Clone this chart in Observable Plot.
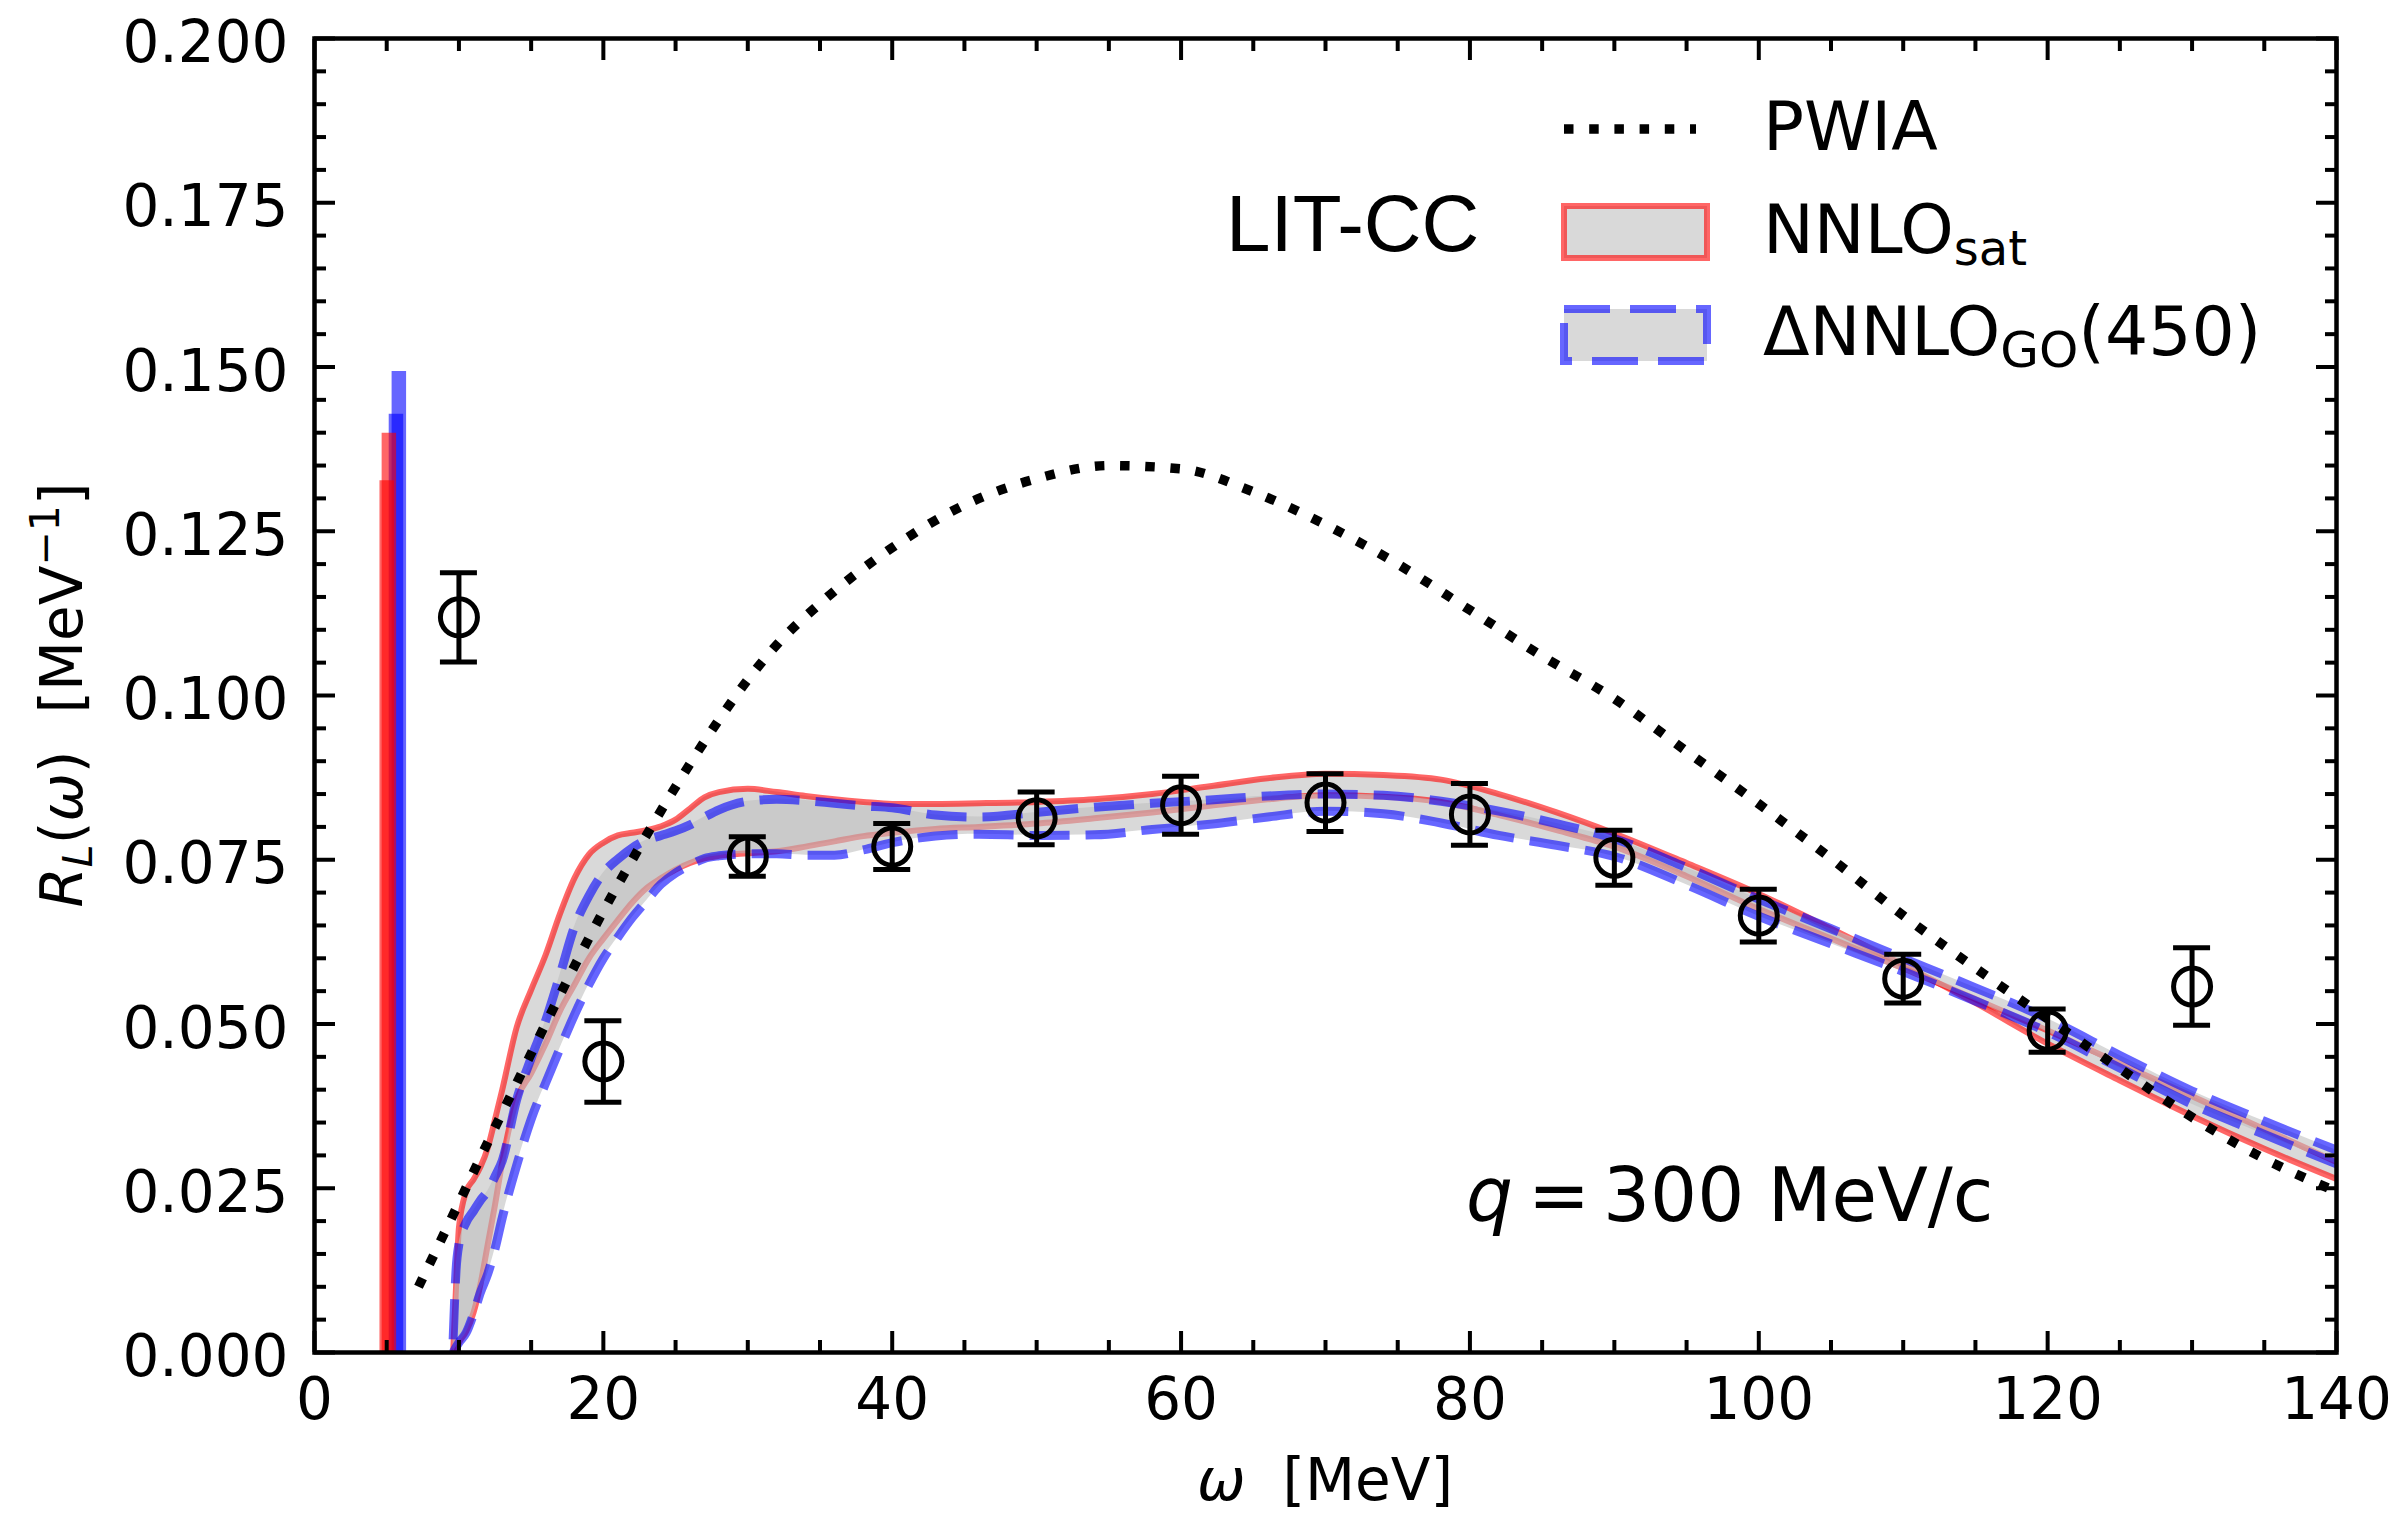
<!DOCTYPE html>
<html>
<head>
<meta charset="utf-8">
<script src="https://cdn.jsdelivr.net/npm/d3@7"></script>
<script src="https://cdn.jsdelivr.net/npm/@observablehq/plot@0.6"></script>
<style>
  html, body { margin: 0; padding: 0; background: #ffffff; }
  svg { display: block; }
</style>
</head>
<body>
<script>
// ---------------- data ----------------
const bandOmega = [9.6, 9.8, 10, 10.5, 11, 11.5, 12, 12.5, 13, 14, 15, 16, 17, 18, 19, 20, 21, 22, 23, 24, 25, 26, 27, 28, 30, 32, 34, 36, 38, 40, 43, 46, 50, 54, 58, 62, 66, 70, 74, 78, 82, 86, 90, 95, 100, 105, 110, 115, 120, 125, 130, 135, 140];
// NNLO_sat band edges
const satEdgeA = [0.0000, 0.0100, 0.0190, 0.0245, 0.0263, 0.0283, 0.0312, 0.0355, 0.0400, 0.0495, 0.0552, 0.0605, 0.0668, 0.0722, 0.0758, 0.0776, 0.0787, 0.0791, 0.0795, 0.0801, 0.0811, 0.0828, 0.0845, 0.0853, 0.0858, 0.0853, 0.0847, 0.0842, 0.0838, 0.0835, 0.0835, 0.0836, 0.0838, 0.0842, 0.0850, 0.0862, 0.0874, 0.0881, 0.0879, 0.0872, 0.0850, 0.0822, 0.0790, 0.0745, 0.0698, 0.0645, 0.0590, 0.0532, 0.0470, 0.0414, 0.0360, 0.0310, 0.0264];
const satEdgeB = [0.0000, 0.0005, 0.0015, 0.0032, 0.0060, 0.0105, 0.0165, 0.0225, 0.0290, 0.0385, 0.0425, 0.0470, 0.0520, 0.0560, 0.0600, 0.0630, 0.0658, 0.0685, 0.0707, 0.0722, 0.0735, 0.0745, 0.0752, 0.0756, 0.0760, 0.0763, 0.0770, 0.0778, 0.0786, 0.0791, 0.0797, 0.0800, 0.0805, 0.0813, 0.0822, 0.0832, 0.0842, 0.0848, 0.0846, 0.0838, 0.0818, 0.0795, 0.0770, 0.0725, 0.0675, 0.0630, 0.0585, 0.0538, 0.0490, 0.0440, 0.0390, 0.0340, 0.0290];
// ΔNNLO_GO(450) band edges
const goEdgeC = [0.0020, 0.0125, 0.0165, 0.0198, 0.0215, 0.0232, 0.0246, 0.0268, 0.0292, 0.0385, 0.0448, 0.0505, 0.0575, 0.0648, 0.0695, 0.0730, 0.0751, 0.0768, 0.0780, 0.0787, 0.0794, 0.0803, 0.0815, 0.0826, 0.0839, 0.0842, 0.0840, 0.0836, 0.0832, 0.0829, 0.0818, 0.0815, 0.0822, 0.0830, 0.0836, 0.0841, 0.0847, 0.0850, 0.0848, 0.0839, 0.0824, 0.0805, 0.0782, 0.0738, 0.0690, 0.0645, 0.0600, 0.0555, 0.0508, 0.0452, 0.0398, 0.0352, 0.0308];
const goEdgeD = [0.0000, 0.0008, 0.0015, 0.0030, 0.0058, 0.0092, 0.0120, 0.0158, 0.0205, 0.0285, 0.0355, 0.0410, 0.0463, 0.0514, 0.0560, 0.0600, 0.0632, 0.0662, 0.0688, 0.0713, 0.0730, 0.0742, 0.0752, 0.0756, 0.0759, 0.0759, 0.0757, 0.0757, 0.0765, 0.0776, 0.0786, 0.0789, 0.0787, 0.0788, 0.0796, 0.0804, 0.0815, 0.0824, 0.0820, 0.0806, 0.0787, 0.0772, 0.0755, 0.0712, 0.0664, 0.0622, 0.0580, 0.0535, 0.0488, 0.0433, 0.0378, 0.0332, 0.0287];

// PWIA
const pwiaOmega = [7.2, 10, 12, 14, 16, 18, 20, 22, 24, 26, 28, 30, 32, 35, 40, 45, 50, 55, 60, 65, 70, 75, 80, 85, 90, 95, 100, 105, 110, 115, 120, 125, 130, 135, 140];
const pwiaR = [0.0100, 0.0228, 0.0320, 0.0410, 0.0500, 0.0588, 0.0672, 0.0750, 0.0825, 0.0896, 0.0963, 0.1024, 0.1077, 0.1140, 0.1225, 0.1290, 0.1330, 0.1350, 0.1345, 0.1310, 0.1260, 0.1200, 0.1130, 0.1060, 0.0995, 0.0915, 0.0835, 0.0752, 0.0665, 0.0585, 0.0508, 0.0432, 0.0358, 0.0295, 0.0245];

// LIT-CC points
const litOmega = [10, 20, 30, 40, 50, 60, 70, 80, 90, 100, 110, 120, 130];
const litR = [0.1119, 0.0443, 0.0755, 0.0770, 0.0813, 0.0833, 0.0837, 0.0819, 0.0753, 0.0665, 0.0569, 0.0490, 0.0557];
const litErr = [0.0068, 0.0062, 0.0030, 0.0035, 0.0040, 0.0044, 0.0044, 0.0047, 0.0042, 0.0040, 0.0037, 0.0033, 0.0059];

// bound-state peaks
const satPeakOmega = [5.0, 5.15];
const satPeakR = [0.1327, 0.1399];
const goPeakOmega = [5.64, 5.84];
const goPeakR = [0.1428, 0.1493];

// ticks
const xMajorTicks = [0, 20, 40, 60, 80, 100, 120, 140];
const yMajorTicks = [0, 0.025, 0.05, 0.075, 0.1, 0.125, 0.15, 0.175, 0.2];
const xMinorTicks = d3.range(0, 141, 5).filter(v => v % 20 !== 0);
const yMinorTicks = d3.range(0, 41).map(i => i * 0.005).filter((v, i) => i % 5 !== 0);

// ---------------- tables ----------------
const band = bandOmega.map((w, i) => ({w, a: satEdgeA[i], b: satEdgeB[i], c: goEdgeC[i], d: goEdgeD[i]}));
const pwia = pwiaOmega.map((w, i) => ({w, r: pwiaR[i]}));
const lit = litOmega.map((w, i) => ({w, r: litR[i], e: litErr[i]}));
const satPeaks = satPeakOmega.map((w, i) => ({w, r: satPeakR[i]}));
const goPeaks = goPeakOmega.map((w, i) => ({w, r: goPeakR[i]}));

const W = 2407, H = 1513;
const mL = 314, mR = 71, mT = 38, mB = 161;
const curve = "monotone-x";
const tickW = 4;
const dashGO = "40,16";

const chart = Plot.plot({
  width: W, height: H,
  marginLeft: mL, marginRight: mR, marginTop: mT, marginBottom: mB,
  x: {domain: [0, 140]},
  y: {domain: [0, 0.2]},
  style: {fontFamily: "DejaVu Sans", fontSize: "58px", background: "#ffffff", color: "#000000", overflow: "visible"},
  marks: [
    // peaks
    Plot.ruleX(goPeaks, {x: "w", y1: () => 0, y2: "r", stroke: "blue", strokeOpacity: 0.6, strokeWidth: 14.5}),
    Plot.ruleX(satPeaks, {x: "w", y1: () => 0, y2: "r", stroke: "red", strokeOpacity: 0.6, strokeWidth: 14.5}),
    // NNLO_sat band
    Plot.areaY(band, {x: "w", y1: "a", y2: "b", fill: "silver", fillOpacity: 0.6, curve, clip: "frame"}),
    Plot.line(band, {x: "w", y: "a", stroke: "red", strokeOpacity: 0.6, strokeWidth: 6, curve, clip: "frame"}),
    Plot.line(band, {x: "w", y: "b", stroke: "red", strokeOpacity: 0.6, strokeWidth: 6, curve, clip: "frame"}),
    // GO band
    Plot.areaY(band, {x: "w", y1: "c", y2: "d", fill: "silver", fillOpacity: 0.6, curve, clip: "frame"}),
    Plot.line(band, {x: "w", y: "c", stroke: "blue", strokeOpacity: 0.6, strokeWidth: 9, strokeDasharray: dashGO, strokeLinecap: "butt", curve, clip: "frame"}),
    Plot.line(band, {x: "w", y: "d", stroke: "blue", strokeOpacity: 0.6, strokeWidth: 9, strokeDasharray: dashGO, strokeLinecap: "butt", curve, clip: "frame"}),
    // PWIA
    Plot.line(pwia, {x: "w", y: "r", stroke: "black", strokeWidth: 9.5, strokeDasharray: "9.5,15.7", strokeLinecap: "butt", curve, clip: "frame"}),
    // LIT-CC points
    Plot.ruleX(lit, {x: "w", y1: d => d.r - d.e, y2: d => d.r + d.e, stroke: "black", strokeWidth: 5}),
    Plot.ruleY(lit, {x1: "w", x2: "w", y: d => d.r + d.e, insetLeft: -18.5, insetRight: -18.5, stroke: "black", strokeWidth: 5}),
    Plot.ruleY(lit, {x1: "w", x2: "w", y: d => d.r - d.e, insetLeft: -18.5, insetRight: -18.5, stroke: "black", strokeWidth: 5}),
    Plot.dot(lit, {x: "w", y: "r", r: 18.5, stroke: "black", strokeWidth: 5, fill: "none"}),
    // frame
    Plot.frame({stroke: "black", strokeWidth: 4.5}),
    // inward ticks
    Plot.axisX(xMinorTicks, {anchor: "bottom", tickSize: -12, strokeWidth: tickW, fill: "none", label: null}),
    Plot.axisX(xMajorTicks, {anchor: "bottom", tickSize: -21, strokeWidth: tickW, fill: "none", label: null}),
    Plot.axisX(xMinorTicks, {anchor: "top", tickSize: -12, strokeWidth: tickW, fill: "none", label: null}),
    Plot.axisX(xMajorTicks, {anchor: "top", tickSize: -21, strokeWidth: tickW, fill: "none", label: null}),
    Plot.axisY(yMinorTicks, {anchor: "left", tickSize: -12, strokeWidth: tickW, fill: "none", label: null}),
    Plot.axisY(yMajorTicks, {anchor: "left", tickSize: -21, strokeWidth: tickW, fill: "none", label: null}),
    Plot.axisY(yMinorTicks, {anchor: "right", tickSize: -12, strokeWidth: tickW, fill: "none", label: null}),
    Plot.axisY(yMajorTicks, {anchor: "right", tickSize: -21, strokeWidth: tickW, fill: "none", label: null}),
    // tick labels
    Plot.axisX(xMajorTicks, {anchor: "bottom", tickSize: 0, tickPadding: 25, tickFormat: d => String(d), fontSize: 58, label: null}),
    Plot.axisY(yMajorTicks, {anchor: "left", tickSize: 0, tickPadding: 26, tickFormat: d3.format(".3f"), fontSize: 58, dy: 5, label: null})
  ]
});

document.body.appendChild(chart);

// ---------------- annotations, labels and legend ----------------
const svg = d3.select(chart);
const g = svg.append("g").attr("font-family", "DejaVu Sans").attr("fill", "black").attr("text-anchor", "start");
const cx = (mL + (W - mR)) / 2, cy = (mT + (H - mB)) / 2;

// x label
const xl = g.append("text").attr("x", cx).attr("y", 1500).attr("text-anchor", "middle")
  .attr("font-size", 58).style("white-space", "pre");
xl.append("tspan").attr("font-style", "italic").text("ω");
xl.append("tspan").text("  [MeV]");

// y label
const yl = g.append("text").attr("transform", `translate(82,${cy}) rotate(-90)`).attr("text-anchor", "middle")
  .attr("font-size", 58).style("white-space", "pre");
yl.append("tspan").attr("font-style", "italic").text("R");
yl.append("tspan").attr("font-style", "italic").attr("font-size", 41).attr("dy", 10).text("L");
yl.append("tspan").attr("dy", -10).text("(");
yl.append("tspan").attr("font-style", "italic").text("ω");
yl.append("tspan").text(")  [MeV");
yl.append("tspan").attr("font-size", 41).attr("dy", -23).text("−1");
yl.append("tspan").attr("dy", 23).text("]");

// LIT-CC
g.append("text").attr("x", 1226).attr("y", 251).attr("font-family", "Liberation Sans, Arial, sans-serif")
  .attr("font-size", 80).text("LIT-CC");

// q label (math-style spacing around "=")
const ql = g.append("text").attr("x", 1466).attr("y", 1221).attr("font-size", 74).style("white-space", "pre");
ql.append("tspan").attr("font-style", "italic").text("q");
ql.append("tspan").attr("dx", 15).text("=");
ql.append("tspan").attr("dx", 13).text("300 MeV/c");

// legend
const lx = 1564, lw = 143, tx = 1763;
g.append("line").attr("x1", lx).attr("x2", lx + 132).attr("y1", 129).attr("y2", 129)
  .attr("stroke", "black").attr("stroke-width", 9.5).attr("stroke-dasharray", "9.5,15.7");
g.append("text").attr("x", tx).attr("y", 150).attr("font-size", 68).text("PWIA");

g.append("rect").attr("x", lx).attr("y", 206).attr("width", lw).attr("height", 52)
  .attr("fill", "silver").attr("fill-opacity", 0.6)
  .attr("stroke", "red").attr("stroke-opacity", 0.6).attr("stroke-width", 6);
const t2 = g.append("text").attr("x", tx).attr("y", 253).attr("font-size", 68);
t2.append("tspan").text("NNLO");
t2.append("tspan").attr("font-size", 48).attr("dy", 12).text("sat");

g.append("rect").attr("x", lx).attr("y", 309).attr("width", lw).attr("height", 52)
  .attr("fill", "silver").attr("fill-opacity", 0.6)
  .attr("stroke", "blue").attr("stroke-opacity", 0.6).attr("stroke-width", 8).attr("stroke-dasharray", "46,20");
const t3 = g.append("text").attr("x", tx).attr("y", 355).attr("font-size", 68);
t3.append("tspan").text("ΔNNLO");
t3.append("tspan").attr("font-size", 50).attr("dy", 12).text("GO");
t3.append("tspan").attr("dy", -12).text("(450)");
</script>
</body>
</html>
